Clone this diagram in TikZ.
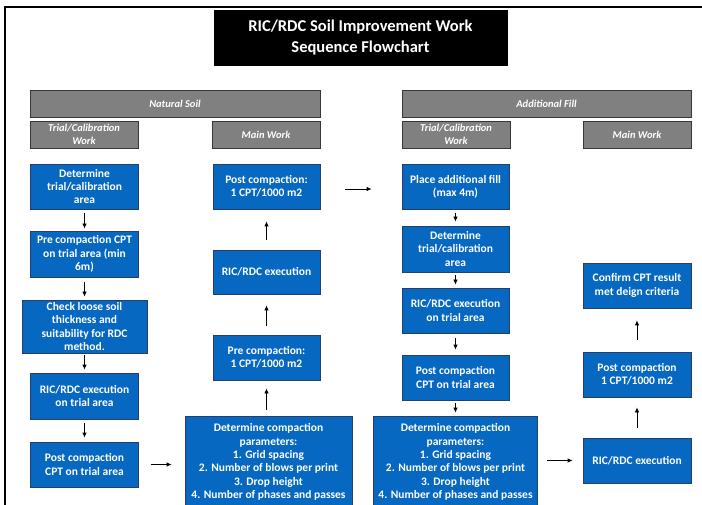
\documentclass[tikz,border=0pt]{standalone}
\usepackage{fontspec}
\setmainfont{Carlito}
\usetikzlibrary{arrows.meta}
\definecolor{boxblue}{RGB}{6,104,192}
\definecolor{boxedge}{RGB}{40,62,105}
\definecolor{bannergray}{RGB}{128,128,128}
\definecolor{banneredge}{RGB}{55,55,55}
\tikzset{
 bluebox/.style={draw=boxedge, line width=0.8pt, fill=boxblue, text=white, font=\bfseries\fontsize{11.5}{13.3}\selectfont, align=center, inner sep=0pt},
 banner/.style={draw=banneredge, line width=0.8pt, fill=bannergray, text=white, font=\bfseries\itshape\fontsize{10.5}{13}\selectfont, align=center, inner sep=0pt},
 titlebox/.style={draw=black, fill=black, text=white, font=\bfseries\fontsize{16.5}{21}\selectfont, align=center, inner sep=0pt},
 arr/.style={-{Latex[length=5pt,width=4.5pt]}, line width=0.8pt}
}
\begin{document}
\begin{tikzpicture}[x=1pt,y=-1pt]
\useasboundingbox (0,0) rectangle (702,505);
\fill[white] (0,0) rectangle (702,505);
% frame
\draw[line width=1.6pt] (5,515) -- (5,7) -- (715,7);
% title
\node[titlebox, minimum width=293pt, minimum height=55pt] (title) at (360.5,37.5) {RIC/RDC Soil Improvement Work\\Sequence Flowchart};
% banners
\node[banner, minimum width=290pt, minimum height=27pt] (ns) at (175,103.5) {Natural Soil};
\node[banner, minimum width=289pt, minimum height=27pt] (af) at (546.5,103.5) {Additional Fill};
\node[banner, minimum width=108pt, minimum height=27pt] (tw1) at (84,134.5) {Trial/Calibration\\Work};
\node[banner, minimum width=108pt, minimum height=27pt] (mw1) at (266,134.5) {Main Work};
\node[banner, minimum width=108pt, minimum height=27pt] (tw2) at (456,134.5) {Trial/Calibration\\Work};
\node[banner, minimum width=108pt, minimum height=27pt] (mw2) at (637,134.5) {Main Work};
% natural soil trial
\node[bluebox, minimum width=108pt, minimum height=45pt] (d1) at (84.5,186.5) {Determine\\trial/calibration\\area};
\node[bluebox, minimum width=108pt, minimum height=46pt] (d2) at (84.5,254) {Pre compaction CPT\\on trial area (min\\6m)};
\node[bluebox, minimum width=125pt, minimum height=53pt] (d3) at (84.5,326.5) {Check loose soil\\thickness and\\suitability for RDC\\method.};
\node[bluebox, minimum width=108pt, minimum height=46pt] (d4) at (84.5,396) {RIC/RDC execution\\on trial area};
\node[bluebox, minimum width=108pt, minimum height=45pt] (d5) at (84.5,464.5) {Post compaction\\CPT on trial area};
% natural soil main
\node[bluebox, minimum width=107pt, minimum height=45pt] (m1) at (266.5,186.5) {Post compaction:\\1 CPT/1000 m2};
\node[bluebox, minimum width=107pt, minimum height=44pt] (m2) at (266.5,272) {RIC/RDC execution};
\node[bluebox, minimum width=107pt, minimum height=45pt] (m3) at (266.5,357.5) {Pre compaction:\\1 CPT/1000 m2};
\node[bluebox, minimum width=167pt, minimum height=92pt] (m4) at (268.5,462) {Determine compaction\\parameters:\\1. Grid spacing\\2. Number of blows per print\\3. Drop height\\4. Number of phases and passes};
% additional fill trial
\node[bluebox, minimum width=107pt, minimum height=45pt] (r1) at (455.5,186.5) {Place additional fill\\(max 4m)};
\node[bluebox, minimum width=107pt, minimum height=46pt] (r2) at (455.5,249) {Determine\\trial/calibration\\area};
\node[bluebox, minimum width=107pt, minimum height=45pt] (r3) at (455.5,310.5) {RIC/RDC execution\\on trial area};
\node[bluebox, minimum width=107pt, minimum height=45pt] (r4) at (455.5,377.5) {Post compaction\\CPT on trial area};
\node[bluebox, minimum width=164pt, minimum height=92pt] (r5) at (455.5,462) {Determine compaction\\parameters:\\1. Grid spacing\\2. Number of blows per print\\3. Drop height\\4. Number of phases and passes};
% additional fill main
\node[bluebox, minimum width=108pt, minimum height=45pt] (s1) at (637,285.5) {Confirm CPT result\\met deign criteria};
\node[bluebox, minimum width=108pt, minimum height=45pt] (s2) at (637,374.5) {Post compaction\\1 CPT/1000 m2};
\node[bluebox, minimum width=108pt, minimum height=45pt] (s3) at (637,460.5) {RIC/RDC execution};
% arrows
\draw[arr, shorten <=4pt, shorten >=2pt] (d1) -- (d2);
\draw[arr, shorten <=5pt, shorten >=3pt] (d2) -- (d3);
\draw[arr, shorten <=2pt, shorten >=3pt] (d3) -- (d4);
\draw[arr, shorten <=4pt, shorten >=4pt] (d4) -- (d5);
\draw[arr, shorten <=12pt, shorten >=13pt] (d5.east) -- (d5.east -| m4.west);
\draw[arr, shorten <=6pt, shorten >=8pt] (m4.north -| m3.south) -- (m3.south);
\draw[arr, shorten <=9pt, shorten >=11pt] (m3) -- (m2);
\draw[arr, shorten <=10pt, shorten >=12pt] (m2) -- (m1);
\draw[arr, shorten <=25pt, shorten >=30pt] ([yshift=-2.5pt]m1.east) -- ([yshift=-2.5pt]r1.west);
\draw[arr, shorten <=4pt, shorten >=4pt] (r1) -- (r2);
\draw[arr, shorten <=3pt, shorten >=3pt] (r2) -- (r3);
\draw[arr, shorten <=5pt, shorten >=5pt] (r3) -- (r4);
\draw[arr, shorten <=3pt, shorten >=3pt] (r4) -- (r5);
\draw[arr, shorten <=9pt, shorten >=10pt] (r5.east |- s3.west) -- (s3.west);
\draw[arr, shorten <=10pt, shorten >=10pt] (s3) -- (s2);
\draw[arr, shorten <=12pt, shorten >=12pt] (s2) -- (s1);
\end{tikzpicture}
\end{document}
